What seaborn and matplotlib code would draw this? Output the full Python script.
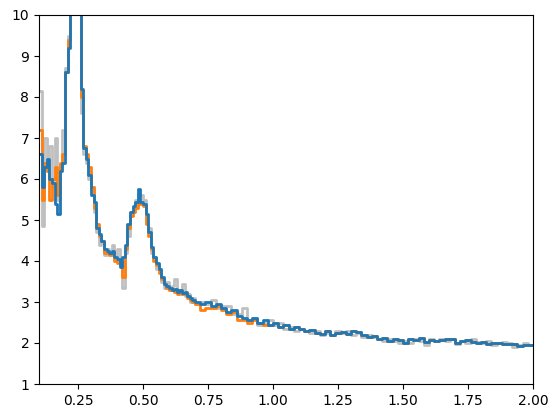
import numpy as np
import pandas as pd
import matplotlib
matplotlib.use("Agg")
import matplotlib.pyplot as plt
import seaborn as sns

# x grid (bin starts): fine bins to 0.69, coarser bins from 0.70 to 2.00
x_fine = np.round(np.arange(0.10, 0.695, 0.01), 2)
x_coarse = np.round(np.arange(0.70, 2.001, 0.02), 2)
x_vals = np.concatenate([x_fine, x_coarse])

blue_fine = [6.6, 5.8, 6.3, 6.5, 6.0, 5.9, 5.4, 5.15, 6.2, 6.4,
             8.6, 9.2, 11.0, 12.0, 12.0, 10.5, 8.2, 6.75, 6.5, 6.1,
             5.6, 5.45, 4.8, 4.65, 4.5, 4.3, 4.25, 4.2, 4.25, 4.1,
             4.05, 3.85, 4.1, 4.4, 4.9, 5.2, 5.35, 5.45, 5.75, 5.45,
             5.4, 5.15, 4.7, 4.35, 4.1, 3.95, 3.8, 3.6, 3.45, 3.4,
             3.35, 3.3, 3.32, 3.25, 3.3, 3.22, 3.25, 3.15, 3.1, 3.05]
blue_coarse = [3.0, 2.95, 3.0, 2.9, 2.95, 2.85, 2.75, 2.8, 2.65, 2.6,
               2.55, 2.62, 2.5, 2.55, 2.45, 2.5, 2.4, 2.45, 2.35, 2.4,
               2.35, 2.3, 2.32, 2.25, 2.22, 2.3, 2.2, 2.25, 2.28, 2.22,
               2.3, 2.27, 2.2, 2.15, 2.18, 2.1, 2.12, 2.05, 2.1, 2.08,
               2.0, 2.1, 2.08, 2.12, 2.02, 2.08, 2.05, 2.08, 2.1, 2.1,
               2.0, 2.05, 2.08, 2.02, 2.0, 2.02, 1.98, 2.0, 2.0, 1.98,
               1.97, 1.97, 1.92, 1.95, 1.95, 1.95]

orange_fine = [7.2, 5.5, 6.4, 6.2, 5.5, 6.0, 6.3, 5.6, 6.4, 6.6,
               8.6, 9.4, 11.0, 12.0, 12.0, 10.5, 8.0, 6.8, 6.6, 6.3,
               5.8, 5.3, 4.9, 4.6, 4.5, 4.2, 4.2, 4.15, 4.2, 4.0,
               3.95, 4.0, 3.6, 4.3, 4.8, 5.1, 5.2, 5.3, 5.5, 5.4,
               5.35, 4.9, 4.6, 4.3, 4.0, 3.9, 3.7, 3.55, 3.45, 3.35,
               3.3, 3.3, 3.25, 3.2, 3.25, 3.2, 3.2, 3.1, 3.05, 3.0]
orange_coarse = [2.95, 2.8, 2.85, 2.85, 2.9, 2.8, 2.7, 2.75, 2.55, 2.55,
                 2.5, 2.55, 2.5, 2.45, 2.45, 2.5, 2.4, 2.45, 2.35, 2.4,
                 2.35, 2.3, 2.32, 2.25, 2.22, 2.3, 2.2, 2.25, 2.28, 2.22,
                 2.3, 2.27, 2.2, 2.15, 2.18, 2.1, 2.12, 2.05, 2.1, 2.08,
                 2.0, 2.1, 2.08, 2.12, 2.02, 2.08, 2.05, 2.08, 2.1, 2.1,
                 2.0, 2.05, 2.08, 2.02, 2.0, 2.02, 1.98, 2.0, 2.0, 1.98,
                 1.97, 1.97, 1.92, 1.95, 1.95, 1.95]

gray_fine = [8.15, 4.85, 7.0, 6.2, 6.8, 5.8, 7.0, 5.5, 6.3, 7.2,
             8.7, 9.5, 11.0, 12.0, 12.0, 10.5, 7.6, 6.6, 6.4, 6.0,
             5.8, 5.2, 4.7, 4.4, 4.5, 4.15, 4.3, 4.2, 4.4, 4.1,
             4.3, 3.9, 3.35, 4.2, 4.6, 5.2, 5.3, 5.5, 5.6, 5.6,
             5.5, 5.0, 4.8, 4.2, 4.1, 3.8, 3.8, 3.5, 3.35, 3.5,
             3.3, 3.4, 3.55, 3.3, 3.2, 3.45, 3.15, 3.2, 3.0, 3.1]
gray_coarse = [2.95, 3.0, 2.95, 3.05, 2.85, 2.9, 2.9, 2.7, 2.7, 2.85,
               2.55, 2.6, 2.45, 2.5, 2.55, 2.45, 2.5, 2.35, 2.4, 2.3,
               2.35, 2.3, 2.25, 2.3, 2.2, 2.25, 2.2, 2.3, 2.25, 2.3,
               2.2, 2.25, 2.15, 2.2, 2.15, 2.1, 2.05, 2.1, 2.05, 2.0,
               2.05, 2.0, 2.1, 2.05, 1.95, 2.1, 2.05, 2.1, 2.05, 2.1,
               1.98, 2.05, 2.0, 2.1, 2.02, 2.0, 2.05, 1.95, 2.0, 2.02,
               2.0, 1.9, 1.95, 2.0, 1.95, 1.95]

blue = np.array(blue_fine + blue_coarse)
orange = np.array(orange_fine + orange_coarse)
gray = np.array(gray_fine + gray_coarse)

df = pd.DataFrame({"x": x_vals, "gray": gray, "orange": orange, "blue": blue})

fig = plt.figure(figsize=(5.58, 4.18), dpi=100)
ax = fig.add_axes([39 / 558, 1 - 384 / 418, (533 - 39) / 558, (384 - 15) / 418])

sns.lineplot(data=df, x="x", y="gray", ax=ax, color="gray", alpha=0.5,
             linewidth=2.0, drawstyle="steps-post", estimator=None, sort=False)
sns.lineplot(data=df, x="x", y="orange", ax=ax, color="C1",
             linewidth=2.0, drawstyle="steps-post", estimator=None, sort=False)
sns.lineplot(data=df, x="x", y="blue", ax=ax, color="C0",
             linewidth=2.0, drawstyle="steps-post", estimator=None, sort=False)

ax.set_xlim(0.1, 2.0)
ax.set_ylim(1, 10)
ax.set_yticks(range(1, 11))
ax.set_xticks([0.25, 0.5, 0.75, 1.0, 1.25, 1.5, 1.75, 2.0])
ax.set_xlabel("")
ax.set_ylabel("")

fig.savefig("out.png", dpi=100)
